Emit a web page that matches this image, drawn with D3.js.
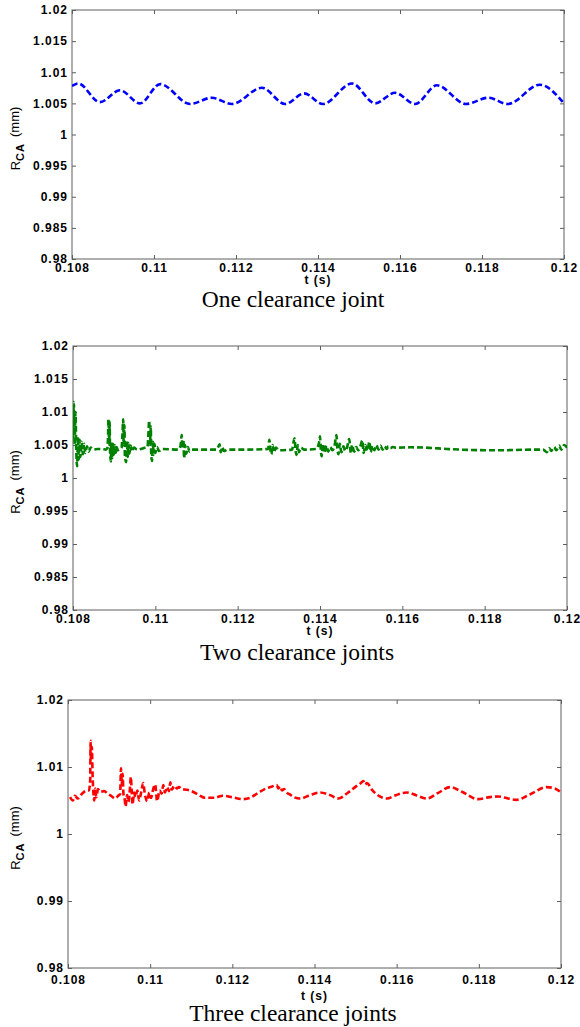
<!DOCTYPE html>
<html>
<head>
<meta charset="utf-8">
<title>R_CA vs t</title>
<style>

body {
  margin: 0;
  background: #fff;
}

.box {
  fill: none;
  stroke: #5e5e5e;
  stroke-width: 1px;
}

.axis path.domain {
  display: none;
}

.axis line {
  stroke: #5e5e5e;
}

.axis text {
  font: bold 12px "Liberation Sans", Arial, sans-serif;
  letter-spacing: 1px;
  fill: #000;
}

.axis-title {
  font: bold 12px "Liberation Sans", Arial, sans-serif;
  letter-spacing: 1px;
  fill: #000;
}

.y-title {
  font: 13px "Liberation Sans", Arial, sans-serif;
  fill: #000;
}

.caption {
  font: 23.5px "Liberation Serif", "Times New Roman", serif;
  fill: #000;
}

path.curve {
  fill: none;
  stroke-width: 2.6px;
  stroke-dasharray: 6 3;
}

</style>
</head>

<body>
<script src="https://cdn.jsdelivr.net/npm/d3@7/dist/d3.min.js"></script>
<script>

// tick values
var xTicks = [0.108, 0.110, 0.112, 0.114, 0.116, 0.118, 0.120];
var xTickLabels = ["0.108", "0.11", "0.112", "0.114", "0.116", "0.118", "0.12"];
var yTicksFine = [0.98, 0.985, 0.99, 0.995, 1, 1.005, 1.01, 1.015, 1.02];
var yTickLabelsFine = ["0.98", "0.985", "0.99", "0.995", "1", "1.005", "1.01", "1.015", "1.02"];
var yTicksCoarse = [0.98, 0.99, 1, 1.01, 1.02];
var yTickLabelsCoarse = ["0.98", "0.99", "1", "1.01", "1.02"];

var captions = ["One clearance joint", "Two clearance joints", "Three clearance joints"];

// [t (s), R_CA (mm)]
var oneJoint = [
  [0.10800, 1.0078], [0.10815, 1.0082], [0.10868, 1.0052], [0.10917, 1.0071],
  [0.10966, 1.0050], [0.11015, 1.0081], [0.11088, 1.0049], [0.11141, 1.0059],
  [0.11190, 1.0049], [0.11263, 1.0075], [0.11320, 1.0049], [0.11366, 1.0066],
  [0.11412, 1.0049], [0.11483, 1.0082], [0.11539, 1.0050], [0.11588, 1.0067],
  [0.11637, 1.0049], [0.11690, 1.0079], [0.11761, 1.0049], [0.11815, 1.0059],
  [0.11863, 1.0049], [0.11941, 1.0080], [0.12000, 1.0050]
];

var twoJoints = [
  [0.10800, 1.0060], [0.10802, 1.0115], [0.10804, 1.0050], [0.10806, 1.0100],
  [0.10808, 1.0040], [0.10810, 1.0018], [0.10812, 1.0062], [0.10814, 1.0028],
  [0.10816, 1.0058], [0.10818, 1.0032], [0.10821, 1.0055], [0.10824, 1.0036],
  [0.10827, 1.0052], [0.10830, 1.0038], [0.10834, 1.0048], [0.10838, 1.0040],
  [0.10843, 1.0046], [0.10850, 1.0043], [0.10860, 1.0044], [0.10870, 1.0044],
  [0.10880, 1.0043], [0.10883, 1.0045], [0.10885, 1.0060], [0.10886, 1.0089],
  [0.10888, 1.0050], [0.10889, 1.0085], [0.10890, 1.0040], [0.10892, 1.0025],
  [0.10893, 1.0055], [0.10895, 1.0030], [0.10897, 1.0052], [0.10899, 1.0035],
  [0.10901, 1.0050], [0.10904, 1.0038], [0.10906, 1.0047], [0.10909, 1.0042],
  [0.10914, 1.0044], [0.10918, 1.0046], [0.10920, 1.0065], [0.10922, 1.0089],
  [0.10923, 1.0050], [0.10925, 1.0080], [0.10926, 1.0035], [0.10929, 1.0024],
  [0.10931, 1.0056], [0.10933, 1.0032], [0.10935, 1.0053], [0.10937, 1.0037],
  [0.10940, 1.0049], [0.10943, 1.0040], [0.10948, 1.0046], [0.10956, 1.0043],
  [0.10975, 1.0046], [0.10981, 1.0047], [0.10983, 1.0065], [0.10985, 1.0087],
  [0.10987, 1.0050], [0.10989, 1.0078], [0.10990, 1.0036], [0.10992, 1.0026],
  [0.10994, 1.0055], [0.10996, 1.0035], [0.10998, 1.0052], [0.11000, 1.0038],
  [0.11004, 1.0047], [0.11009, 1.0041], [0.11016, 1.0044], [0.11055, 1.0043],
  [0.11061, 1.0048], [0.11064, 1.0065], [0.11066, 1.0045], [0.11068, 1.0058],
  [0.11070, 1.0030], [0.11072, 1.0050], [0.11075, 1.0037], [0.11079, 1.0047],
  [0.11083, 1.0040], [0.11089, 1.0043], [0.11148, 1.0043], [0.11152, 1.0046],
  [0.11156, 1.0051], [0.11159, 1.0039], [0.11162, 1.0047], [0.11167, 1.0041],
  [0.11175, 1.0043], [0.11220, 1.0043], [0.11274, 1.0044], [0.11277, 1.0058],
  [0.11280, 1.0040], [0.11282, 1.0036], [0.11285, 1.0050], [0.11288, 1.0039],
  [0.11293, 1.0046], [0.11300, 1.0042], [0.11332, 1.0043], [0.11338, 1.0060],
  [0.11341, 1.0040], [0.11343, 1.0035], [0.11346, 1.0050], [0.11349, 1.0039],
  [0.11354, 1.0046], [0.11361, 1.0043], [0.11391, 1.0044], [0.11398, 1.0055],
  [0.11400, 1.0063], [0.11402, 1.0042], [0.11404, 1.0033], [0.11407, 1.0052],
  [0.11411, 1.0038], [0.11416, 1.0049], [0.11420, 1.0040], [0.11425, 1.0047],
  [0.11430, 1.0042], [0.11435, 1.0048], [0.11440, 1.0065], [0.11442, 1.0045],
  [0.11445, 1.0036], [0.11448, 1.0052], [0.11452, 1.0039], [0.11457, 1.0048],
  [0.11461, 1.0041], [0.11466, 1.0047], [0.11471, 1.0059], [0.11475, 1.0037],
  [0.11478, 1.0050], [0.11483, 1.0040], [0.11488, 1.0047], [0.11493, 1.0042],
  [0.11498, 1.0048], [0.11503, 1.0057], [0.11506, 1.0038], [0.11510, 1.0050],
  [0.11515, 1.0041], [0.11520, 1.0055], [0.11523, 1.0039], [0.11527, 1.0049],
  [0.11532, 1.0042], [0.11537, 1.0050], [0.11542, 1.0043], [0.11547, 1.0049],
  [0.11552, 1.0043], [0.11557, 1.0048], [0.11562, 1.0044], [0.11566, 1.0048],
  [0.11571, 1.0045], [0.11576, 1.0047], [0.11583, 1.0046], [0.11620, 1.00465],
  [0.11656, 1.0046], [0.11709, 1.0044], [0.11765, 1.00425], [0.11838, 1.0042],
  [0.11911, 1.0043], [0.11942, 1.0043], [0.11951, 1.0039], [0.11957, 1.0045],
  [0.11962, 1.0041], [0.11969, 1.0047], [0.11974, 1.0042], [0.11981, 1.0049],
  [0.11986, 1.0043], [0.11993, 1.0050], [0.12000, 1.0046]
];

var threeJoints = [
  [0.10805, 1.0055], [0.10812, 1.0050], [0.10817, 1.0057], [0.10824, 1.0053],
  [0.10834, 1.0060], [0.10846, 1.0065], [0.10851, 1.0065], [0.10854, 1.0080],
  [0.10855, 1.0139], [0.10856, 1.0110], [0.10858, 1.0130], [0.10860, 1.0085],
  [0.10862, 1.0060], [0.10864, 1.0050], [0.10866, 1.0068], [0.10869, 1.0055],
  [0.10873, 1.0067], [0.10878, 1.0063], [0.10888, 1.0064], [0.10897, 1.0060],
  [0.10907, 1.0056], [0.10914, 1.0053], [0.10922, 1.0057], [0.10927, 1.0060],
  [0.10929, 1.0098], [0.10931, 1.0075], [0.10933, 1.0090], [0.10935, 1.0060],
  [0.10938, 1.0052], [0.10940, 1.0041], [0.10944, 1.0058], [0.10947, 1.0048],
  [0.10951, 1.0070], [0.10953, 1.0085], [0.10955, 1.0065], [0.10957, 1.0044],
  [0.10961, 1.0062], [0.10964, 1.0055], [0.10969, 1.0065], [0.10973, 1.0050],
  [0.10978, 1.0062], [0.10983, 1.0076], [0.10987, 1.0060], [0.10993, 1.0049],
  [0.10998, 1.0062], [0.11002, 1.0054], [0.11007, 1.0066], [0.11012, 1.0074],
  [0.11017, 1.0049], [0.11023, 1.0065], [0.11028, 1.0060], [0.11032, 1.0073],
  [0.11036, 1.0062], [0.11041, 1.0070], [0.11046, 1.0064], [0.11049, 1.0077],
  [0.11053, 1.0066], [0.11058, 1.0072], [0.11065, 1.0068], [0.11070, 1.0070],
  [0.11077, 1.0067], [0.11090, 1.0066], [0.11104, 1.0063], [0.11119, 1.0058],
  [0.11133, 1.0054], [0.11155, 1.0054], [0.11177, 1.0057], [0.11199, 1.0055],
  [0.11224, 1.0052], [0.11243, 1.0054], [0.11262, 1.0061], [0.11282, 1.0068],
  [0.11297, 1.0071], [0.11308, 1.0073], [0.11312, 1.0068], [0.11316, 1.0071],
  [0.11321, 1.0065], [0.11326, 1.0067], [0.11332, 1.0062], [0.11340, 1.0059],
  [0.11350, 1.0055], [0.11365, 1.0053], [0.11389, 1.0058], [0.11413, 1.0062],
  [0.11438, 1.0058], [0.11458, 1.0053], [0.11482, 1.0062], [0.11501, 1.0071],
  [0.11513, 1.0076], [0.11519, 1.0079], [0.11523, 1.0074], [0.11528, 1.0076],
  [0.11540, 1.0066], [0.11559, 1.0056], [0.11576, 1.0053], [0.11598, 1.0058],
  [0.11624, 1.0062], [0.11647, 1.0058], [0.11673, 1.0053], [0.11700, 1.0061],
  [0.11730, 1.0070], [0.11759, 1.0063], [0.11798, 1.0052], [0.11827, 1.0055],
  [0.11847, 1.0056], [0.11871, 1.0053], [0.11892, 1.0051], [0.11924, 1.0059],
  [0.11965, 1.0070], [0.11985, 1.0068], [0.12000, 1.0062]
];

var width = 580,
    height = 1027;

// where each sub-figure sits on the page
var panels = [
  {data: oneJoint, color: "#0000ff", left: 72, right: 564, top: 10, bottom: 259,
   yTicks: yTicksFine, yLabels: yTickLabelsFine, caption: captions[0],
   pad: 4, titleDy: 25, captionX: 293, captionDy: 48},
  {data: twoJoints, color: "#008000", left: 73, right: 567, top: 346, bottom: 610,
   yTicks: yTicksFine, yLabels: yTickLabelsFine, caption: captions[1],
   pad: 4, titleDy: 25, captionX: 297, captionDy: 50},
  {data: threeJoints, color: "#ff0000", left: 68, right: 561, top: 700, bottom: 968,
   yTicks: yTicksCoarse, yLabels: yTickLabelsCoarse, caption: captions[2],
   pad: 7, titleDy: 32, captionX: 293, captionDy: 53}
];

var svg = d3.select("body").append("svg")
    .attr("width", width)
    .attr("height", height);

panels.forEach(function(p, i) {
  var x = d3.scaleLinear().domain([0.108, 0.12]).range([p.left, p.right]);
  var y = d3.scaleLinear().domain([0.98, 1.02]).range([p.bottom, p.top]);

  var g = svg.append("g");

  g.append("clipPath")
      .attr("id", "clip" + i)
    .append("rect")
      .attr("x", p.left)
      .attr("y", p.top)
      .attr("width", p.right - p.left)
      .attr("height", p.bottom - p.top);

  // matlab style inward ticks on all four sides
  g.append("g")
      .attr("class", "axis")
      .attr("transform", "translate(0," + p.bottom + ")")
      .call(d3.axisBottom(x)
          .tickValues(xTicks)
          .tickFormat(function(d, k) { return xTickLabels[k]; })
          .tickSizeInner(-4)
          .tickSizeOuter(0)
          .tickPadding(p.pad));

  g.append("g")
      .attr("class", "axis")
      .attr("transform", "translate(0," + p.top + ")")
      .call(d3.axisTop(x).tickValues(xTicks).tickFormat("").tickSizeInner(-4).tickSizeOuter(0));

  g.append("g")
      .attr("class", "axis")
      .attr("transform", "translate(" + p.left + ",0)")
      .call(d3.axisLeft(y)
          .tickValues(p.yTicks)
          .tickFormat(function(d, k) { return p.yLabels[k]; })
          .tickSizeInner(-4)
          .tickSizeOuter(0)
          .tickPadding(4));

  g.append("g")
      .attr("class", "axis")
      .attr("transform", "translate(" + p.right + ",0)")
      .call(d3.axisRight(y).tickValues(p.yTicks).tickFormat("").tickSizeInner(-4).tickSizeOuter(0));

  g.append("rect")
      .attr("class", "box")
      .attr("x", p.left)
      .attr("y", p.top)
      .attr("width", p.right - p.left)
      .attr("height", p.bottom - p.top);

  var line = d3.line()
      .x(function(d) { return x(d[0]); })
      .y(function(d) { return y(d[1]); })
      .curve(d3.curveMonotoneX);

  g.append("path")
      .datum(p.data)
      .attr("class", "curve")
      .attr("clip-path", "url(#clip" + i + ")")
      .style("stroke", p.color)
      .attr("d", line);

  // axis titles
  var mid = (p.left + p.right) / 2;
  g.append("text")
      .attr("class", "axis-title")
      .attr("x", mid)
      .attr("y", p.bottom + p.titleDy)
      .attr("text-anchor", "middle")
      .text("t (s)");

  var yt = g.append("text")
      .attr("class", "y-title")
      .attr("transform", "translate(15," + ((p.top + p.bottom) / 2 + 4) + ") rotate(-90)")
      .attr("text-anchor", "middle")
      .attr("dy", "0.35em");
  yt.append("tspan").text("R");
  yt.append("tspan")
      .attr("dy", "0.4em")
      .style("font-size", "11px")
      .style("font-weight", "bold")
      .style("letter-spacing", "1px")
      .text("CA");
  yt.append("tspan")
      .attr("dy", "-0.4em")
      .attr("dx", 6)
      .text("(mm)");

  g.append("text")
      .attr("class", "caption")
      .attr("x", p.captionX)
      .attr("y", p.bottom + p.captionDy)
      .attr("text-anchor", "middle")
      .text(p.caption);
});

</script>
</body>
</html>
